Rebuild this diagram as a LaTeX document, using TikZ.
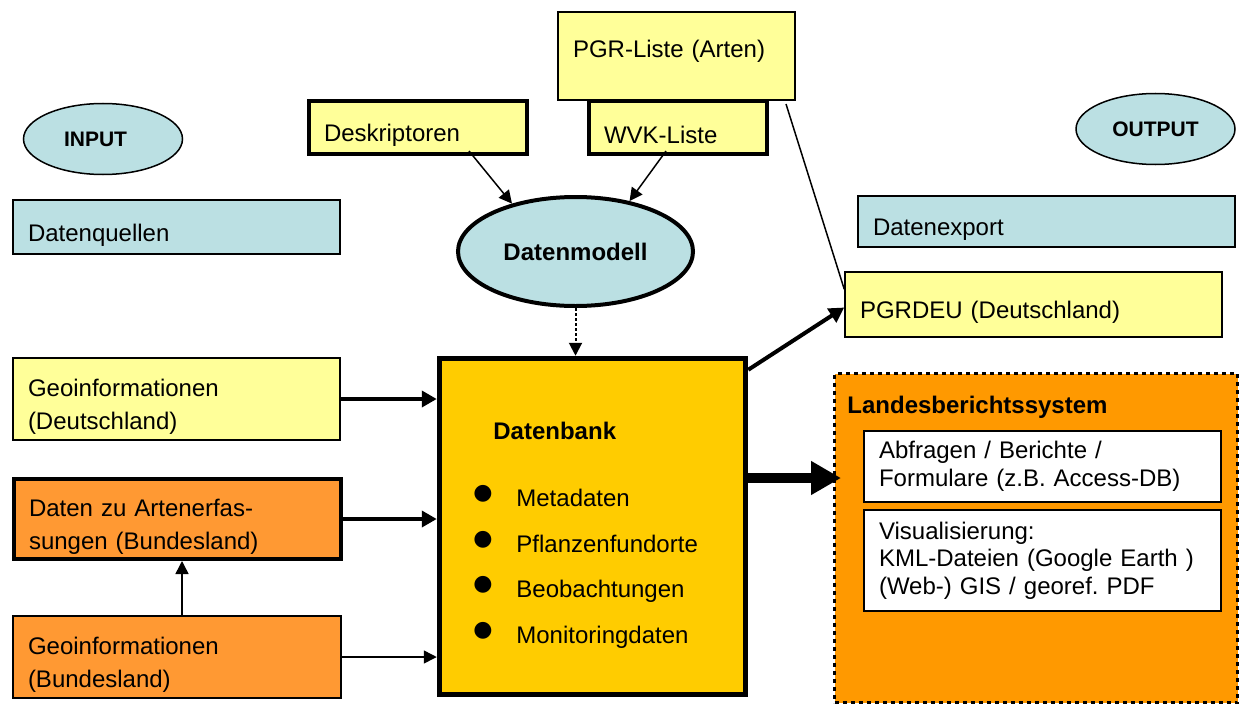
\documentclass[tikz,border=0pt]{standalone}
\usepackage{fontspec}
\setmainfont{Liberation Sans}
\newfontfamily\dejavu{DejaVu Sans}
\usetikzlibrary{arrows.meta, shapes.geometric, calc}
\frenchspacing

\definecolor{infoblue}{RGB}{187,224,227}
\definecolor{listyellow}{RGB}{255,255,153}
\definecolor{landorange}{RGB}{255,153,51}
\definecolor{dbyellow}{RGB}{255,204,0}
\definecolor{lbsorange}{RGB}{255,153,0}

\newcommand{\topstrut}{\rule{0pt}{16.5pt}}
\newcommand{\dbitem}{\makebox[21.5pt][l]{\raisebox{3.5pt}{\dejavu\fontsize{11}{11}\selectfont ●}}}

\tikzset{
    every node/.style={font=\fontsize{12}{16.5}\selectfont},
    plainbox/.style={draw, line width=0.75pt, align=left, inner xsep=7.5pt, inner ysep=0pt,
        execute at begin node=\topstrut},
    thickbox/.style={plainbox, line width=2pt},
    whitebox/.style={draw, line width=1pt, fill=white, align=left, inner xsep=7.5pt, inner ysep=0pt,
        text width=163.5pt, font=\fontsize{12}{13.75}\selectfont},
    tagell/.style={ellipse, draw, line width=0.75pt, fill=infoblue, inner sep=0pt,
        minimum width=79.5pt, minimum height=35.5pt, font=\bfseries\fontsize{10.5}{12}\selectfont},
    thinarr/.style={line width=0.75pt, -{Triangle[length=6.5pt,width=6.5pt]}},
    medarr/.style={line width=2pt, -{Triangle[length=7.5pt,width=8pt]}},
    bigarr/.style={line width=5pt, -{Triangle[length=15pt,width=16pt]}},
}

\begin{document}
\begin{tikzpicture}[x=0.5pt, y=-0.5pt]
    \useasboundingbox (0,0) rectangle (1240,706);

    % input side
    \node[tagell] (input) at (103,139) {INPUT\hspace*{7.5pt}};
    \node[plainbox, fill=infoblue, text width=148.5pt, minimum height=27pt] (quellen) at (176.5,227) {Datenquellen};
    \node[plainbox, fill=listyellow, text width=148.5pt, minimum height=41pt] (geode) at (176.5,399) {Geoinformationen\\(Deutschland)};
    \node[thickbox, fill=landorange, text width=148.5pt, minimum height=40pt] (arten) at (177.5,519) {Daten zu Artenerfas-\\sungen (Bundesland)};
    \node[plainbox, fill=landorange, text width=149pt, minimum height=41pt] (geobl) at (177,657) {Geoinformationen\\(Bundesland)};

    % lists and model
    \node[thickbox, fill=listyellow, text width=94pt, minimum height=26.5pt] (desk) at (418,127.5) {Deskriptoren};
    \node[draw, line width=1pt, fill=listyellow, align=left, inner xsep=7.5pt, text width=103.5pt,
        minimum height=44pt, text depth=7.4pt] (pgr) at (676.5,56) {PGR-Liste (Arten)};
    \node[thickbox, fill=listyellow, text width=74pt, minimum height=26.5pt] (wvk) at (678,127.5) {WVK-Liste};
    \node[ellipse, draw, line width=2pt, fill=infoblue, inner sep=0pt, minimum width=117.5pt,
        minimum height=54.5pt, font=\bfseries\fontsize{12}{14}\selectfont] (dm) at (575.5,251.5) {Datenmodell};

    % database
    \node[draw, line width=2.75pt, fill=dbyellow, minimum width=153pt, minimum height=168pt] (db) at (592.5,526.5) {};
    \node[anchor=west, inner sep=0pt, font=\bfseries\fontsize{12}{14}\selectfont] (dbtitle) at (493,431) {Datenbank};
    \node[anchor=west, align=left, inner sep=0pt, font=\fontsize{12}{22.7}\selectfont] (dblist) at (473,567)
        {\dbitem Metadaten\\\dbitem Pflanzenfundorte\\\dbitem Beobachtungen\\\dbitem Monitoringdaten};

    % output side
    \node[tagell] (output) at (1155.5,129) {OUTPUT};
    \node[plainbox, fill=infoblue, text width=173.5pt, minimum height=25.5pt] (export) at (1046.5,221.5) {Datenexport};
    \node[plainbox, fill=listyellow, text width=173.5pt, minimum height=32.5pt] (pgrdeu) at (1033.5,304.5) {PGRDEU (Deutschland)};

    \node[draw, line width=1.5pt, dash pattern=on 2pt off 2pt, fill=lbsorange, minimum width=201.5pt,
        minimum height=164.5pt, inner sep=0pt] (lbs) at (1036,538) {};
    \node[anchor=west, inner sep=0pt, font=\bfseries\fontsize{12}{14}\selectfont] (lbstitle) at (847,407) {Landesberichtssystem};
    \node[whitebox, minimum height=35.5pt] (abfragen) at (1042.5,466.5) {Abfragen / Berichte /\\Formulare (z.B. Access-DB)};
    \node[whitebox, minimum height=50.5pt] (visual) at (1042.5,560.5) {Visualisierung:\\KML-Dateien (Google Earth )\\(Web-) GIS / georef. PDF};

    % connectors
    \draw[thinarr] ($(desk.south)+(51,-5)$) -- (dm.143);
    \draw[thinarr] ($(wvk.south)+(-12,-5)$) -- (dm.43);
    \draw[line width=0.75pt] ($(pgr.south east)+(-10,3)$) -- ($(pgrdeu.north west)+(0,18)$);
    \draw[thinarr, line width=1pt, dash pattern=on 1.5pt off 1pt] (dm.south) -- (dm.south |- db.north);

    \draw[medarr] (geode.east) -- (geode.east -| db.west);
    \draw[medarr] (arten.east) -- (arten.east -| db.west);
    \draw[thinarr] (geobl.east) -- (geobl.east -| db.west);
    \coordinate (geoup) at ($(geobl.north)+(5,0)$);
    \draw[thinarr] (geoup) -- (geoup |- arten.south);

    \draw[medarr] ($(db.north east)+(0,14)$) -- ($(pgrdeu.west)+(0,3)$);
    \draw[bigarr] ($(db.east)+(0,-48.5)$) -- ($(lbs.west)+(8,-60)$);
\end{tikzpicture}
\end{document}
